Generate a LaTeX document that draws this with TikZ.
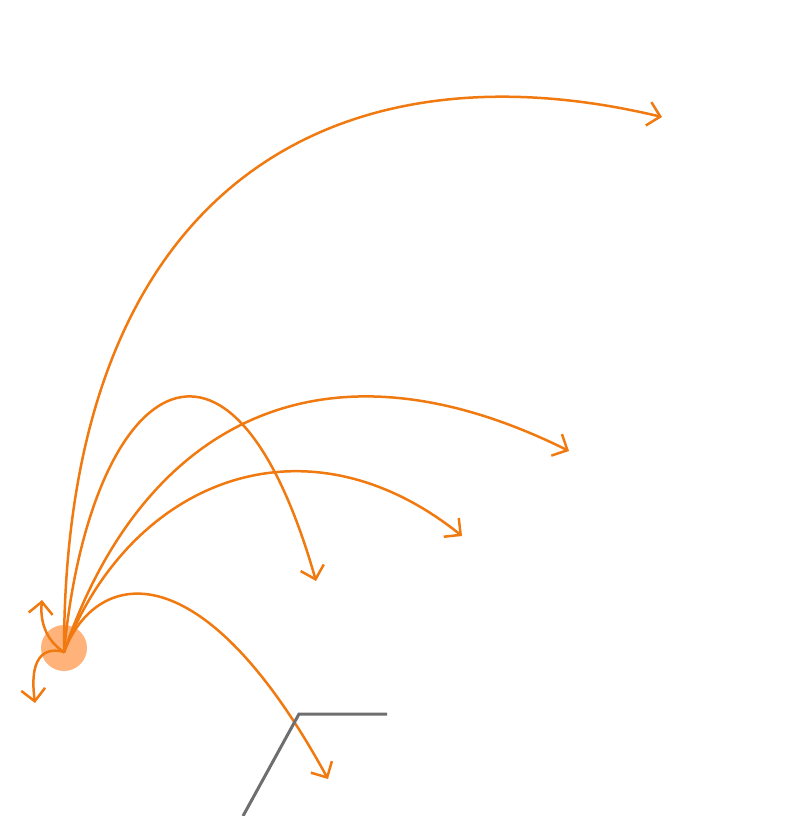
\documentclass[tikz,border=0pt]{standalone}
\usetikzlibrary{arrows.meta}
\definecolor{arr}{RGB}{240,122,16}
\definecolor{dot}{RGB}{255,178,122}
\definecolor{gr}{RGB}{110,110,110}
\begin{document}
\begin{tikzpicture}[x=1pt,y=-1pt,
  flow/.style={draw=arr,line width=2.5pt,line cap=round,-{Straight Barb[length=12pt,width=24pt,line width=2.5pt]}},
  wall/.style={draw=gr,line width=3pt}]
\useasboundingbox (0,0) rectangle (800,816);
\node[circle,fill=dot,minimum size=46pt,inner sep=0pt] (o) at (64,648) {};
\coordinate (s) at (64,652);
\coordinate (e1) at (662,117);
\coordinate (e2) at (569,451);
\coordinate (e3) at (462,536);
\coordinate (e4) at (316,581);
\coordinate (e5) at (328,779);
\coordinate (e6) at (42,600);
\coordinate (e7) at (35,703);
\draw[flow] (s) .. controls (64,180) and (340,40) .. (e1);
\draw[flow] (s) .. controls (140,430) and (315,325) .. (e2);
\draw[flow] (s) .. controls (130,480) and (305,410) .. (e3);
\draw[flow] (s) .. controls (90,380) and (230,280) .. (e4);
\draw[flow] (s) .. controls (95,570) and (200,545) .. (e5);
\draw[flow] (s) .. controls (45,640) and (40,620) .. (e6);
\draw[flow] (s) .. controls (50,648) and (28,650) .. (e7);
\coordinate (w1) at (243,816);
\coordinate (w2) at (299,714);
\coordinate (w3) at (387,714);
\draw[wall] (w1) -- (w2) -- (w3);
\end{tikzpicture}
\end{document}
